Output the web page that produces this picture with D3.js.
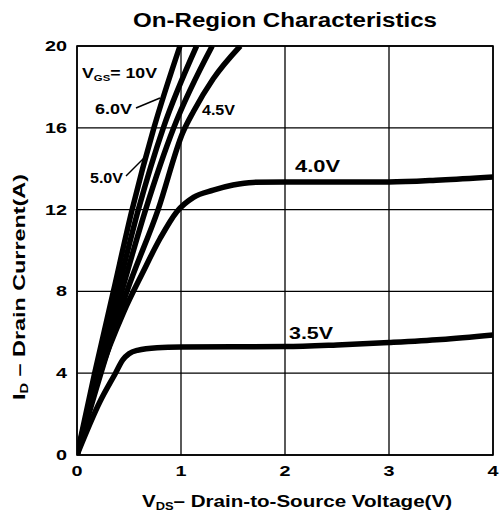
<!DOCTYPE html>
<html><head><meta charset="utf-8">
<script src="https://cdn.jsdelivr.net/npm/d3@7/dist/d3.min.js"></script>
<style>
html,body{margin:0;padding:0;background:#fff;}
svg text{font-family:"Liberation Sans",Arial,sans-serif;font-weight:bold;fill:#000;}
</style></head>
<body><svg id="c" width="500" height="518"></svg>
<script>
// ---- data ----
const xTicks = [0, 1, 2, 3, 4];
const yTicks = [0, 4, 8, 12, 16, 20];
const vgs10 = [[0,0],[0.17,4],[0.35,8],[0.53,12],[0.74,16],[0.99,20]];
const vgs6  = [[0,0],[0.19,4],[0.39,8],[0.59,12],[0.83,16],[1.15,20]];
const vgs5  = [[0,0],[0.21,4],[0.43,8],[0.66,12],[0.93,16],[1.30,20]];
const vgs45 = [[0,0],[0.23,4],[0.48,8],[0.78,12],[1.02,15.8],[1.12,16.8],[1.31,18.4],[1.57,20]];
const vgs40 = [[0,0],[0.22,4],[0.45,7],[0.63,8.9],[0.8,10.6],[0.96,11.9],[1.12,12.6],[1.31,12.95],[1.5,13.2],[1.69,13.33],[2.0,13.35],[2.5,13.35],[3.0,13.35],[3.5,13.45],[4.0,13.6]];
const vgs35 = [[0,0],[0.22,2.6],[0.37,4.0],[0.44,4.65],[0.5,4.95],[0.58,5.12],[0.77,5.25],[1.0,5.28],[2.0,5.3],[2.5,5.38],[3.0,5.5],[3.5,5.65],[4.0,5.87]];
const curves = [vgs10, vgs6, vgs5, vgs45, vgs40, vgs35];

// ---- layout ----
const svg = d3.select("#c");
const L = 77, R = 493, T = 46, B = 455;
const x = d3.scaleLinear().domain([0,4]).range([L,R]);
const y = d3.scaleLinear().domain([0,20]).range([B,T]);

// grid
svg.append("g").selectAll("line.v").data(xTicks).join("line")
  .attr("x1",d=>x(d)).attr("x2",d=>x(d)).attr("y1",T).attr("y2",B)
  .attr("stroke","#000").attr("stroke-width",1.3);
svg.append("g").selectAll("line.h").data(yTicks).join("line")
  .attr("x1",L).attr("x2",R).attr("y1",d=>y(d)).attr("y2",d=>y(d))
  .attr("stroke","#000").attr("stroke-width",1.3);
svg.append("rect").attr("x",L).attr("y",T).attr("width",R-L).attr("height",B-T)
  .attr("fill","none").attr("stroke","#000").attr("stroke-width",1.6);

// tick labels
svg.append("g").selectAll("text").data(xTicks).join("text")
  .attr("x",d=>x(d)).attr("y",B+21).attr("text-anchor","middle")
  .attr("textLength",d=>String(d).length*11).attr("lengthAdjust","spacingAndGlyphs")
  .style("font-size","15px").text(d=>d);
svg.append("g").selectAll("text").data(yTicks).join("text")
  .attr("x",L-10).attr("y",d=>y(d)+5).attr("text-anchor","end")
  .attr("textLength",d=>String(d).length*11).attr("lengthAdjust","spacingAndGlyphs")
  .style("font-size","15px").text(d=>d);

// curves
svg.append("clipPath").attr("id","clip").append("rect")
  .attr("x",L).attr("y",T-1).attr("width",R-L).attr("height",B-T+1);
const line = d3.line().x(d=>x(d[0])).y(d=>y(d[1])).curve(d3.curveMonotoneX);
svg.append("g").attr("clip-path","url(#clip)").selectAll("path").data(curves).join("path")
  .attr("d",line).attr("fill","none").attr("stroke","#000")
  .attr("stroke-width",5.5).attr("stroke-linecap","butt").attr("stroke-linejoin","round");

// title
svg.append("text").attr("x",285).attr("y",27).attr("text-anchor","middle")
  .attr("textLength",304).attr("lengthAdjust","spacingAndGlyphs")
  .style("font-size","20px").text("On-Region Characteristics");

// axis titles
const xt = svg.append("text").attr("x",297).attr("y",507).attr("text-anchor","middle")
  .attr("textLength",310).attr("lengthAdjust","spacingAndGlyphs").style("font-size","16px");
xt.append("tspan").text("V");
xt.append("tspan").attr("dy",3).style("font-size","10px").text("DS");
xt.append("tspan").attr("dy",-3).text("– Drain-to-Source Voltage(V)");

const yt = svg.append("text").attr("transform","translate(25,287) rotate(-90)")
  .attr("text-anchor","middle").attr("textLength",226).attr("lengthAdjust","spacingAndGlyphs")
  .style("font-size","16px");
yt.append("tspan").text("I");
yt.append("tspan").attr("dy",3).style("font-size","10px").text("D");
yt.append("tspan").attr("dy",-3).text(" – Drain Current(A)");

// curve labels
const lab = (tx,ty,len,size,parts)=>{
  const t = svg.append("text").attr("x",tx).attr("y",ty).style("font-size",size+"px")
    .attr("textLength",len).attr("lengthAdjust","spacingAndGlyphs");
  parts.forEach(p=>{ const s=t.append("tspan").text(p.t); if(p.sub){s.attr("dy",3).style("font-size","9px");} if(p.up){s.attr("dy",-3);} });
};
lab(82,78,75,14,[{t:"V"},{t:"GS",sub:true},{t:"= 10V",up:true}]);
lab(95,114,37,14,[{t:"6.0V"}]);
lab(202,115,33,14,[{t:"4.5V"}]);
lab(90,183,33,14,[{t:"5.0V"}]);
lab(295,172,45,16,[{t:"4.0V"}]);
lab(289,339,44,16,[{t:"3.5V"}]);

// leader lines
svg.append("line").attr("x1",136).attr("y1",108).attr("x2",160).attr("y2",98)
  .attr("stroke","#000").attr("stroke-width",1.5);
svg.append("line").attr("x1",126).attr("y1",176).attr("x2",146).attr("y2",156)
  .attr("stroke","#000").attr("stroke-width",1.5);
</script></body></html>
